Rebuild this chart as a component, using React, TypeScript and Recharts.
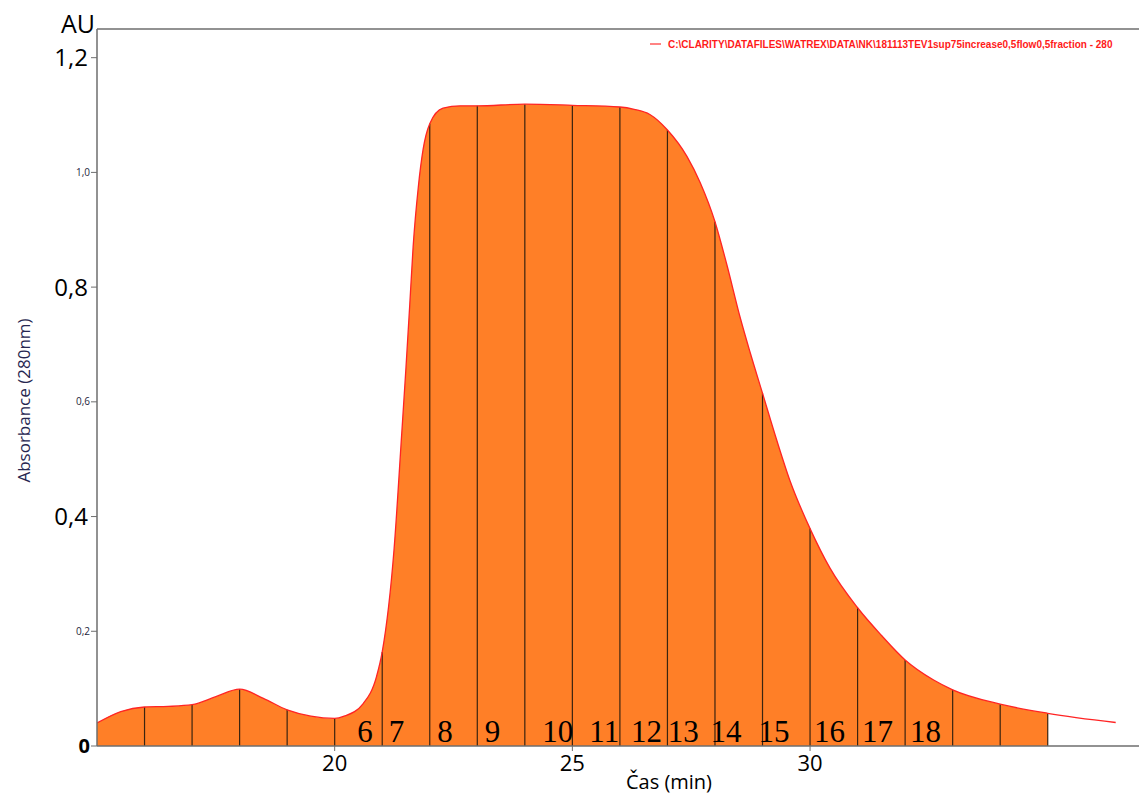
import React from 'react';
import { ComposedChart, Area, Line, XAxis, YAxis, ReferenceLine, Scatter } from 'recharts';

// Retention time (min)
const times = [
  15.0, 15.5, 16.0, 16.5, 17.0, 17.5, 18.0, 18.5, 19.0, 19.5, 20.0, 20.2, 20.6, 20.88, 21.0,
  21.25, 21.41, 21.5, 21.58, 21.65, 21.76, 21.86, 22.0, 22.28, 22.64, 23.0, 24.0, 25.0, 26.0,
  26.3, 26.63, 27.0, 27.41, 27.69, 28.0, 28.25, 28.53, 28.74, 29.0, 29.3, 29.58, 30.0, 30.42,
  31.0, 31.5, 32.0, 32.6, 33.0, 34.0, 35.0, 36.43,
];
// Absorbance at 280 nm (AU)
const absorbance = [
  0.040, 0.060, 0.068, 0.069, 0.072, 0.086, 0.099, 0.083, 0.063, 0.052, 0.048, 0.052, 0.074, 0.121, 0.164,
  0.344, 0.544, 0.66, 0.77, 0.87, 0.975, 1.04, 1.085, 1.112, 1.116, 1.116, 1.119, 1.117, 1.114,
  1.110, 1.101, 1.074, 1.028, 0.982, 0.914, 0.839, 0.747, 0.686, 0.615, 0.533, 0.462, 0.379, 0.310,
  0.241, 0.193, 0.150, 0.115, 0.098, 0.073, 0.057, 0.041,
];
const fillEnd = 35;
const boundaryTimes = [16, 17, 18, 19, 20, 21, 22, 23, 24, 25, 26, 27, 28, 29, 30, 31, 32, 33, 34, 35];
const fractionNumbers = ['6', '7', '8', '9', '10', '11', '12', '13', '14', '15', '16', '17', '18'];
const fractionLabelTimes = [20.64, 21.3, 22.32, 23.32, 24.69, 25.67, 26.56, 27.33, 28.23, 29.24, 30.41, 31.42, 32.43];
const yTicks = [0, 0.2, 0.4, 0.6, 0.8, 1.0, 1.2];
const xTicks = [20, 25, 30];
const legendText = 'C:\\CLARITY\\DATAFILES\\WATREX\\DATA\\NK\\181113TEV1sup75increase0,5flow0,5fraction - 280';

const data = times.map((t, i) => ({ t, abs: absorbance[i], fill: t <= fillEnd ? absorbance[i] : null }));
const labelData = fractionNumbers.map((n, i) => ({ t: fractionLabelTimes[i], y: 0, n }));
const boundaryData = boundaryTimes.map((t) => ({ t, v: absorbance[times.indexOf(t)] }));

const SANS = '"Open Sans", "DejaVu Sans", sans-serif';
const AXIS = '#6e6e6e';

const YTick = (props: any) => {
  const { x, y, payload } = props;
  const v = payload.value as number;
  if (v === 0) {
    return (
      <text x={x + 2} y={y + 7} textAnchor="end" fontSize={20} fontWeight="bold" fill="#000" fontFamily={SANS}>0</text>
    );
  }
  const big = Math.round(v * 10) % 4 === 0;
  const txt = v.toFixed(1).replace('.', ',');
  if (big) {
    return (
      <text x={x} y={y + 8.5} textAnchor="end" fontSize={24} fill="#000" fontFamily={SANS}>{txt}</text>
    );
  }
  return (
    <text x={x + 2} y={y + 3.5} textAnchor="end" fontSize={10} fill="#1e1e3c" fontFamily={SANS}>{txt}</text>
  );
};

const XTick = (props: any) => {
  const { x, y, payload } = props;
  return (
    <text x={x} y={y + 20} textAnchor="middle" fontSize={22} fill="#000" fontFamily={SANS}>{payload.value}</text>
  );
};

const YLabel = (props: any) => {
  const vb = props.viewBox || { x: 0, y: 29, width: 97, height: 717 };
  const cx = 23;
  const cy = vb.y + vb.height / 2 + 13;
  return (
    <g>
      <text x={78} y={33} textAnchor="middle" fontSize={25} fill="#000" fontFamily={SANS}>AU</text>
      <text x={cx} y={cy} transform={`rotate(-90 ${cx} ${cy})`} textAnchor="middle" dominantBaseline="central"
        fontSize={17} fill="#262650" fontFamily={SANS}>Absorbance (280nm)</text>
    </g>
  );
};

const XLabel = () => (
  <text x={669} y={789} textAnchor="middle" fontSize={20} fill="#000" fontFamily={SANS}>Čas (min)</text>
);

const FractionLabel = (props: any) => {
  const { cx, cy, payload } = props;
  return (
    <text x={cx} y={cy - 4.5} textAnchor="middle" fontSize={31} fill="#000"
      fontFamily='"Liberation Serif", "Times New Roman", serif'>{payload.n}</text>
  );
};

export default function App() {
  return (
    <div style={{ position: 'absolute', left: 0, top: 0, width: 1139, height: 796, background: '#fff', overflow: 'hidden' }}>
      <ComposedChart width={1139} height={796} data={data} margin={{ top: 29, right: 0, bottom: 0, left: 0 }}>
        <XAxis
          type="number"
          dataKey="t"
          domain={[15, 36.92]}
          allowDataOverflow
          ticks={xTicks}
          height={50}
          tickSize={5}
          tickMargin={0}
          axisLine={{ stroke: AXIS, strokeWidth: 1.5 }}
          tickLine={{ stroke: AXIS }}
          tick={<XTick />}
          label={<XLabel />}
        />
        <YAxis
          type="number"
          domain={[0, 1.25]}
          ticks={yTicks}
          width={97}
          tickSize={6}
          tickMargin={3}
          axisLine={{ stroke: AXIS, strokeWidth: 1.5 }}
          tickLine={{ stroke: AXIS }}
          tick={<YTick />}
          label={<YLabel />}
        />
        <ReferenceLine y={1.25} stroke={AXIS} strokeWidth={1.5} />
        <Area
          dataKey="fill"
          type="monotone"
          fill="#FF7F27"
          fillOpacity={1}
          stroke="none"
          baseValue={0}
          isAnimationActive={false}
        />
        {boundaryData.map((b) => (
          <ReferenceLine
            key={b.t}
            segment={[{ x: b.t, y: 0 }, { x: b.t, y: b.v }]}
            stroke="#3a2410"
            strokeWidth={1.2}
          />
        ))}
        <Line
          dataKey="abs"
          type="monotone"
          stroke="#FF2424"
          strokeWidth={1.3}
          dot={false}
          activeDot={false}
          isAnimationActive={false}
        />
        <Scatter data={labelData} dataKey="y" shape={<FractionLabel />} isAnimationActive={false} />
      </ComposedChart>
      <div style={{ position: 'absolute', left: 648, top: 36, width: 491, height: 16 }}>
        <svg width={491} height={16}>
          <line x1={2} y1={8} x2={13} y2={8} stroke="#FF3030" strokeWidth={1.2} />
          <text transform="translate(20 12) scale(0.91 1)" x={0} y={0} fontSize={11} fontWeight="bold" fill="#FF1A1A"
            fontFamily='"Liberation Sans", Arial, sans-serif'>{legendText}</text>
        </svg>
      </div>
    </div>
  );
}
